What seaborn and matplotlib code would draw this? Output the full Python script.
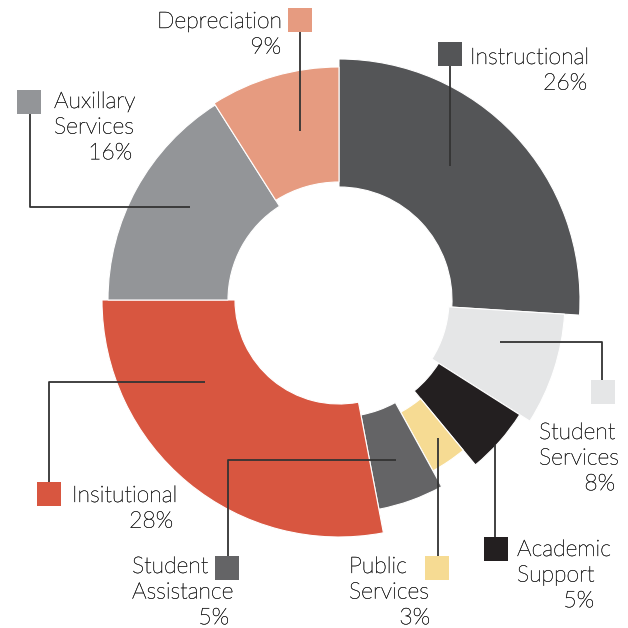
import numpy as np
import matplotlib
matplotlib.use("Agg")
import matplotlib.pyplot as plt
import matplotlib.patheffects as pe
from matplotlib.patches import Rectangle
import seaborn as sns

# --- data ---
categories = ["Instructional", "Student Services", "Academic Support", "Public Services",
              "Student Assistance", "Insitutional", "Auxillary Services", "Depreciation"]
shares = [26, 8, 5, 3, 5, 28, 16, 9]
pct_labels = ["26%", "8%", "5%", "3%", "5%", "28%", "16%", "9%"]
name_lines = [["Instructional"], ["Student", "Services"], ["Academic", "Support"],
              ["Public", "Services"], ["Student", "Assistance"], ["Insitutional"],
              ["Auxillary", "Services"], ["Depreciation"]]

# --- style ---
colors = ["#545557", "#e5e6e7", "#231f20", "#f6db93",
          "#646466", "#d85640", "#939598", "#e69b80"]
inner_r = [113, 110, 118, 128, 117, 104, 111, 118]
outer_r = [241, 226, 214, 195, 213, 237, 231, 233]
text_color = "#2b2b2b"
line_color = "#333333"

sns.set_theme(style="white")
plt.rcParams["font.family"] = ["Lato", "DejaVu Sans"]

W = 628
fig = plt.figure(figsize=(6.28, 6.28), dpi=100)

# donut on a polar axes, 1 radial unit = 1 pixel
cx, cy, R = 339, 300, 250
ax = fig.add_axes([(cx - R) / W, (W - cy - R) / W, 2 * R / W, 2 * R / W], projection="polar")
ax.set_theta_zero_location("N")
ax.set_theta_direction(-1)
ax.set_ylim(0, R)
ax.axis("off")

frac = np.array(shares) / np.sum(shares)
widths = frac * 2 * np.pi
starts = np.concatenate([[0], np.cumsum(widths)[:-1]])
heights = np.array(outer_r) - np.array(inner_r)
ax.bar(starts, heights, width=widths, bottom=inner_r, align="edge",
       color=colors, edgecolor="white", linewidth=0.8)

# overlay axes in pixel coordinates for callouts
ov = fig.add_axes([0, 0, 1, 1])
ov.set_xlim(0, W)
ov.set_ylim(W, 0)
ov.axis("off")
ov.patch.set_alpha(0)

# (leader path, square top-left, name left x, pct right x, first line centre y)
callouts = [
    ([(450, 166), (450, 66)], (438, 42), 470, 587, 56),
    ([(500, 342), (602, 342), (602, 380)], (591, 380), 539, 615, 431),
    ([(495, 445), (495, 537)], (484, 537), 517, 594, 548),
    ([(438, 438), (438, 556)], (425, 556), 349, 430, 565),
    ([(396, 460), (228, 460), (228, 556)], (215, 556), 132, 229, 565),
    ([(205, 382), (49, 382), (49, 482)], (37, 482), 72, 173, 494),
    ([(190, 207), (30, 207), (30, 114)], (17, 90), 54, 132, 100),
    ([(300, 131), (300, 32)], (288, 8), 157, 281, 20),
]

step = 25.6
txt_kw = dict(fontsize=16.5, fontweight="light", color=text_color, va="baseline",
              path_effects=[pe.withStroke(linewidth=0.3, foreground=text_color)])

for i, (path, sq, lx, rx, ty) in enumerate(callouts):
    xs, ys = zip(*path)
    ov.plot(xs, ys, color=line_color, lw=1.3, solid_capstyle="butt")
    ov.add_patch(Rectangle(sq, 24, 24, facecolor=colors[i], edgecolor="none"))
    for k, line in enumerate(name_lines[i]):
        ov.text(lx, ty + k * step + 8, line, ha="left", **txt_kw)
    ov.text(rx, ty + len(name_lines[i]) * step + 8, pct_labels[i], ha="right", **txt_kw)

fig.savefig("out.png", dpi=100)
